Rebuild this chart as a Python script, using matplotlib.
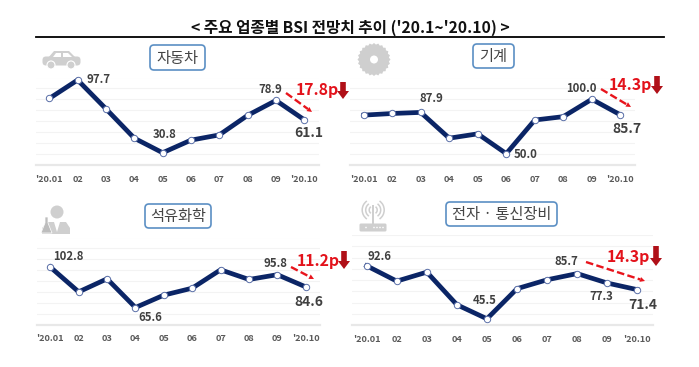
import numpy as np
import matplotlib
matplotlib.use("Agg")
import matplotlib.pyplot as plt
from matplotlib.patches import Circle, FancyBboxPatch, Polygon, Arc, Rectangle

plt.rcParams["font.family"] = ["Noto Sans CJK KR", "DejaVu Sans"]

W, H = 699, 367

# ── Data ──────────────────────────────────────────────────────────────────────
months = ["'20.01", "02", "03", "04", "05", "06", "07", "08", "09", "'20.10"]

car_vals      = [80.7, 97.7, 71.2, 44.2, 30.8, 42.4, 47.2, 65.2, 78.9, 61.1]
machine_vals  = [85.4, 86.9, 87.9, 64.2, 68.2, 50.0, 80.9, 84.0, 100.0, 85.7]
petro_vals    = [102.8, 80.0, 92.0, 65.6, 77.0, 83.4, 100.3, 91.4, 95.8, 84.6]
telecom_vals  = [92.6, 79.0, 87.0, 58.0, 45.5, 72.3, 80.2, 85.7, 77.3, 71.4]

names = ["자동차", "기계", "석유화학", "전자 · 통신장비"]
drops = ["17.8p", "14.3p", "11.2p", "14.3p"]

# ── Layout, in reference pixels ───────────────────────────────────────────────
panels = [
    dict(vals=car_vals, ylo=20, x0=49.3, x9=304.3, left=36, right=319, top=77.5, bot=164.5, pad=7.5,
         labels={1: (21, 1), 4: (2, 18), 8: (-6, 11)}, last=(4, -13),
         pill=(150, 45, 205, 70), red=((286, 93), (312, 112)), txt=(317, 90), down=(343, 82, 99)),
    dict(vals=machine_vals, ylo=40, x0=363.7, x9=620.3, left=350, right=635, top=77.5, bot=164.5, pad=7.5,
         labels={2: (11, 14), 5: (19, -1), 8: (-10, 11)}, last=(7, -14),
         pill=(473, 44, 514, 68), red=((601, 89), (631, 107)), txt=(630, 85), down=(657, 76, 94)),
    dict(vals=petro_vals, ylo=50, x0=50.3, x9=305.7, left=37, right=320, top=237.5, bot=324.5, pad=6.5,
         labels={0: (18, 11), 3: (15, -10), 8: (-2, 11)}, last=(3, -15),
         pill=(145, 204, 211, 228), red=((291, 267), (314, 279)), txt=(318, 261), down=(344, 251, 269)),
    dict(vals=telecom_vals, ylo=40, x0=366.7, x9=637.3, left=352, right=653, top=235, bot=325, pad=7.5,
         labels={0: (13, 9), 4: (-2, 18), 7: (-11, 12), 8: (-6, -13)}, last=(5, -15),
         pill=(446, 202, 557, 226), red=((586, 262), (645, 281)), txt=(628, 257), down=(656, 246, 266)),
]

NAVY = "#0b2566"
fig = plt.figure(figsize=(W / 100, H / 100), dpi=100, facecolor="white")


def px_axes(left, right, top, bot):
    return fig.add_axes([left / W, 1 - bot / H, (right - left) / W, (bot - top) / H])


# ── Line panels ───────────────────────────────────────────────────────────────
for p in panels:
    ax = px_axes(p["left"], p["right"], p["top"], p["bot"])
    step = (p["x9"] - p["x0"]) / 9
    ax.set_xlim((p["left"] - p["x0"]) / step, (p["right"] - p["x0"]) / step)
    ax.set_ylim(p["ylo"], p["ylo"] + 80)
    ax.set_yticks(np.arange(p["ylo"], p["ylo"] + 81, 10))
    ax.set_yticklabels([])
    ax.set_xticks(range(len(months)))
    ax.set_xticklabels(months, fontsize=6.6, color="#5a5a5a", fontweight="bold")
    ax.tick_params(length=0, pad=p["pad"])
    ax.tick_params(axis="y", pad=0)
    ax.grid(axis="y", color="#f3f3f3", lw=0.8)
    ax.set_axisbelow(True)
    for s in ax.spines.values():
        s.set_visible(False)
    ax.axhline(p["ylo"], color="#e8e8e8", lw=1.6, clip_on=False)
    ax.patch.set_alpha(0)

    xs = np.arange(len(p["vals"]))
    ax.plot(xs, p["vals"], color=NAVY, lw=3.4, solid_joinstyle="miter", clip_on=False,
            marker="o", ms=4.6, mfc="white", mec="#5a6fa8", mew=0.7)

    for i, off in p["labels"].items():
        ax.annotate(f"{p['vals'][i]:.1f}", (i, p["vals"][i]), xytext=off,
                    textcoords="offset pixels", ha="center", va="center",
                    fontsize=8.2, color="#404040", fontweight="bold",
                    annotation_clip=False)
    ax.annotate(f"{p['vals'][-1]:.1f}", (9, p["vals"][-1]), xytext=p["last"],
                textcoords="offset pixels", ha="center", va="center",
                fontsize=10, color="#404040", fontweight="bold",
                annotation_clip=False)

# ── Overlay in pixel coordinates: title, pills, arrows, icons ─────────────────
ov = fig.add_axes([0, 0, 1, 1])
ov.set_xlim(0, W)
ov.set_ylim(H, 0)
ov.axis("off")
ov.patch.set_alpha(0)

ov.text(350, 27.5, "< 주요 업종별 BSI 전망치 추이 ('20.1~'20.10) >", ha="center", va="center",
        fontsize=11.3, color="#111111", fontweight="bold")
ov.plot([36, 664], [37, 37], color="black", lw=1.3)

for p, name, drop in zip(panels, names, drops):
    x1, y1, x2, y2 = p["pill"]
    ov.add_patch(FancyBboxPatch((x1 + 3, y1 + 3), x2 - x1 - 6, y2 - y1 - 6,
                                boxstyle="round,pad=3,rounding_size=4",
                                fc="white", ec="#5b8fc4", lw=1.2))
    ov.text((x1 + x2) / 2, (y1 + y2) / 2 + 0.5, name, ha="center", va="center",
            fontsize=11, color="#444444", fontweight="medium")

    (ax0, ay0), (ax1, ay1) = p["red"]
    ux, uy = (ax1 - ax0), (ay1 - ay0)
    ln = np.hypot(ux, uy)
    ov.plot([ax0, ax1 - 5 * ux / ln], [ay0, ay1 - 5 * uy / ln], color="#e8141c", lw=1.7,
            ls=(0, (3.2, 1.4)))
    ov.annotate("", xy=(ax1, ay1), xytext=(ax1 - 7 * ux / ln, ay1 - 7 * uy / ln),
                arrowprops=dict(arrowstyle="-|>", color="#e8141c", lw=0, mutation_scale=9,
                                shrinkA=0, shrinkB=0))
    ov.text(p["txt"][0], p["txt"][1], drop, ha="center", va="center", fontsize=11.4,
            color="#e3121b", fontweight="bold")
    dx, dy0, dy1 = p["down"]
    ov.add_patch(Polygon([(dx - 2.8, dy0), (dx + 2.8, dy0), (dx + 2.8, dy1 - 8), (dx + 6, dy1 - 8),
                          (dx, dy1), (dx - 6, dy1 - 8), (dx - 2.8, dy1 - 8)],
                         fc="#b01018", ec="none"))

ICON = "#cfcfcf"
# car
ov.add_patch(FancyBboxPatch((43, 57), 37, 8, boxstyle="round,pad=0.5,rounding_size=3.5", fc=ICON, ec="none"))
ov.add_patch(Polygon([(48, 58), (54, 51), (69, 51), (76, 58)], fc=ICON, ec="none"))
ov.add_patch(Polygon([(53, 57), (56, 53), (61, 53), (61, 57)], fc="white", ec="none"))
ov.add_patch(Polygon([(63, 57), (63, 53), (68, 53), (72, 57)], fc="white", ec="none"))
for cx in (51, 71):
    ov.add_patch(Circle((cx, 65), 4, fc=ICON, ec="white", lw=0.8))

# saw blade
ang = np.linspace(0, 2 * np.pi, 49)[:-1]
rad = np.where(np.arange(48) % 2 == 0, 16.5, 15)
ov.add_patch(Polygon(np.c_[374 + rad * np.cos(ang), 59.5 + rad * np.sin(ang)], fc=ICON, ec="none"))
ov.add_patch(Circle((374, 59.5), 4, fc="white", ec="none"))

# chemist
ov.add_patch(Circle((57, 212), 6.5, fc=ICON, ec="none"))
ov.add_patch(Polygon([(42, 234), (42, 228), (48, 222), (66, 222), (70, 228), (70, 234)], fc=ICON, ec="none"))
ov.add_patch(Polygon([(54, 222), (60, 222), (57, 232)], fc="white", ec="none"))
ov.add_patch(Polygon([(45, 217), (48, 217), (48, 223), (52, 233), (41, 233), (45, 223)], fc="#bdbdbd", ec="white", lw=0.5))

# router
ov.add_patch(FancyBboxPatch((360, 224), 26, 7, boxstyle="round,pad=0.5,rounding_size=1.5", fc=ICON, ec="none"))
ov.add_patch(Rectangle((372.4, 205), 1.6, 19, fc=ICON, ec="none"))
for cx_dot in (366, 374, 377, 380, 383):
    ov.add_patch(Circle((cx_dot, 227.5), 0.8, fc="white", ec="none"))
for r in (4, 7.5, 11):
    ov.add_patch(Arc((373.2, 210), 2 * r, 2 * r, theta1=125, theta2=235, color=ICON, lw=1.1))
    ov.add_patch(Arc((373.2, 210), 2 * r, 2 * r, theta1=-55, theta2=55, color=ICON, lw=1.1))

plt.savefig("out.png", dpi=100, facecolor="white")
plt.close()
